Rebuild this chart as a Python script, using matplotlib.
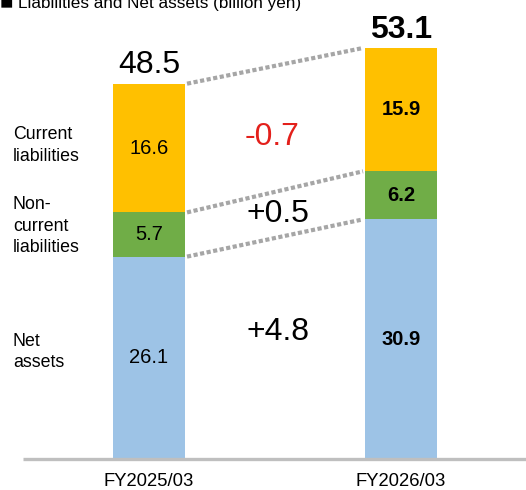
import matplotlib.pyplot as plt

plt.rcParams['font.family'] = ['Liberation Sans', 'DejaVu Sans']

# Balance sheet, right-hand side (billion yen)
periods = ['FY2025/03', 'FY2026/03']
net_assets = [26.1, 30.9]
non_current = [5.7, 6.2]
current = [16.6, 15.9]
totals = [48.5, 53.1]
changes = ['-0.7', '+0.5', '+4.8']
row_labels = ['Current\nliabilities', 'Non-\ncurrent\nliabilities', 'Net\nassets']

c_net = '#9dc3e6'
c_noncur = '#70ad47'
c_cur = '#ffc000'

fig = plt.figure(figsize=(5.26, 4.9), dpi=100)
ax = fig.add_axes([0, 31 / 490, 1, 459 / 490])
ax.set_xlim(-0.5913, 1.496)
ax.set_ylim(0, 59.19)
ax.axis('off')

x = [0, 1]
w = 0.2857
b1 = net_assets
b2 = [a + b for a, b in zip(net_assets, non_current)]
ax.bar(x, net_assets, w, color=c_net, zorder=2)
ax.bar(x, non_current, w, bottom=b1, color=c_noncur, zorder=2)
ax.bar(x, current, w, bottom=b2, color=c_cur, zorder=2)

# base line
ax.plot([-0.5, 1.496], [0, 0], color='#bfbfbf', lw=2.4, clip_on=False, zorder=3,
        solid_capstyle='butt')

# dotted connectors between segment boundaries
tops = [b1, b2, [b + c for b, c in zip(b2, current)]]
for t in tops:
    ax.plot([x[0] + w / 2 + 0.008, x[1] - w / 2 - 0.008], t, color='#a6a6a6', lw=3,
            linestyle=(0, (1, 0.6)), dash_capstyle='butt', zorder=1)

# segment values
for i in range(2):
    weight = 'normal' if i == 0 else 'bold'
    ax.text(x[i], net_assets[i] / 2, f'{net_assets[i]:.1f}', ha='center', va='center',
            fontsize=14.5, fontweight=weight)
    ax.text(x[i], b1[i] + non_current[i] / 2, f'{non_current[i]:.1f}', ha='center',
            va='center', fontsize=14.5, fontweight=weight)
    ax.text(x[i], b2[i] + current[i] / 2, f'{current[i]:.1f}', ha='center', va='center',
            fontsize=14.5, fontweight=weight)
    ax.text(x[i], totals[i] + 1.25, f'{totals[i]:.1f}', ha='center', va='baseline',
            fontsize=23, fontweight=weight)

# changes between years
ax.text(0.49, 41.5, changes[0], ha='center', va='center', fontsize=23, color='#e3201b')
ax.text(0.51, 31.6, changes[1], ha='center', va='center', fontsize=23)
ax.text(0.51, 16.4, changes[2], ha='center', va='center', fontsize=23)

# row labels on the left
for lbl, yy in zip(row_labels, [40.4, 30.0, 13.8]):
    ax.text(-0.54, yy, lbl, ha='left', va='center', fontsize=12.8, linespacing=1.35)

for i, p in enumerate(periods):
    ax.text(x[i], -2.84, p, ha='center', va='center', fontsize=13.3, clip_on=False)

fig.text(0.0, 482 / 490, '■', ha='left', va='baseline', fontsize=16)
fig.text(18 / 526, 482 / 490, 'Liabilities and Net assets (billion yen)', ha='left',
         va='baseline', fontsize=12.3)

fig.savefig('out.png', dpi=100)
